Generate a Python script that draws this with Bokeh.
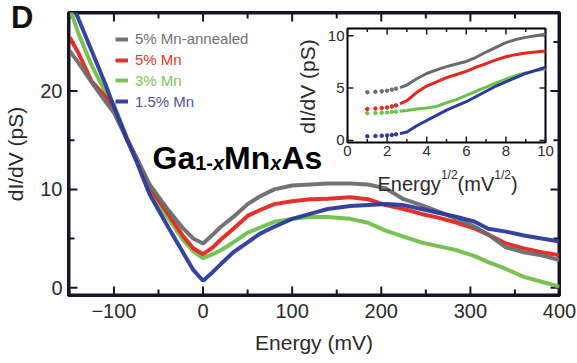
import math
from bokeh.plotting import figure
from bokeh.layouts import column
from bokeh.models import Range1d, Label, FixedTicker, Legend, LegendItem, Div
from bokeh.core.properties import value
from bokeh.embed import file_html
from bokeh.resources import INLINE

# ---------------- data ----------------
energy = [-150, -140, -125, -110, -100, -85, -75, -60, -40, -22, -11, 0, 11, 20, 34, 50, 64, 80,
          100, 120, 140, 165, 185, 205, 225, 245, 265, 285, 305, 320, 340, 360, 380, 400]
mn5_annealed = [24.1, 22.9, 20.9, 19.0, 17.8, 15.0, 13.3, 10.5, 8.0, 6.0, 5.0, 4.5, 5.4, 6.2, 7.2, 8.5, 9.3, 10.0,
                10.4, 10.5, 10.6, 10.6, 10.5, 10.1, 9.0, 8.4, 7.7, 7.0, 6.2, 5.4, 4.1, 3.6, 3.3, 2.8]
mn5 = [25.5, 23.9, 21.0, 19.5, 18.2, 15.0, 13.2, 10.2, 7.6, 5.2, 4.0, 3.4, 4.1, 4.9, 6.0, 7.3, 7.9, 8.5,
       8.8, 9.0, 9.05, 9.2, 9.0, 8.4, 8.0, 7.5, 7.1, 6.6, 6.0, 5.4, 4.5, 4.0, 3.6, 3.3]
mn3 = [28.6, 25.9, 22.6, 20.0, 18.6, 15.2, 13.2, 9.9, 7.2, 4.8, 3.7, 3.0, 3.4, 3.8, 4.6, 5.6, 6.1, 6.7,
       7.0, 7.2, 7.2, 7.0, 6.6, 5.8, 5.2, 4.6, 4.2, 3.8, 3.2, 2.6, 1.9, 1.1, 0.6, 0.1]
mn15 = [29.5, 27.4, 24.1, 20.8, 18.4, 15.0, 12.9, 9.5, 6.3, 3.5, 1.8, 0.7, 1.6, 2.4, 3.6, 4.6, 5.5, 6.2,
        7.0, 7.5, 8.0, 8.3, 8.4, 8.5, 8.4, 8.0, 7.6, 7.2, 6.7, 6.0, 5.7, 5.3, 5.0, 4.7]

series_names = ["5% Mn-annealed", "5% Mn", "3% Mn", "1.5% Mn"]

x_ticks = [-100, 0, 100, 200, 300, 400]
x_minor = [-150, -50, 50, 150, 250, 350]
y_ticks = [0, 10, 20]
y_minor = [5, 15, 25]

# inset: dI/dV vs Energy^(1/2)
inset_dot_x = [1.0, 1.41, 1.73, 2.0, 2.24, 2.45]
inset_dot_annealed = [4.6, 4.65, 4.7, 4.75, 4.85, 4.95]
inset_dot_mn5 = [3.0, 3.05, 3.1, 3.15, 3.25, 3.35]
inset_dot_mn3 = [2.6, 2.62, 2.65, 2.68, 2.72, 2.75]
inset_dot_mn15 = [0.4, 0.42, 0.45, 0.48, 0.52, 0.58]

inset_x = [2.65, 3.0, 3.5, 4.0, 4.5, 5.0, 5.5, 6.0, 6.5, 7.0, 7.5, 8.0, 8.5, 9.0, 9.5, 10.0]
inset_annealed = [5.05, 5.3, 5.9, 6.4, 6.75, 7.05, 7.3, 7.55, 7.95, 8.45, 8.9, 9.35, 9.65, 9.85, 10.0, 10.15]
inset_mn5 = [3.5, 3.8, 4.6, 5.2, 5.6, 6.0, 6.3, 6.6, 7.0, 7.35, 7.7, 8.0, 8.2, 8.35, 8.45, 8.55]
inset_mn3 = [2.78, 2.86, 3.0, 3.1, 3.25, 3.6, 3.9, 4.3, 4.7, 5.1, 5.5, 5.85, 6.2, 6.45, 6.65, 6.85]
inset_mn15 = [0.65, 0.8, 1.4, 1.9, 2.4, 2.9, 3.3, 3.7, 4.2, 4.7, 5.2, 5.6, 6.0, 6.4, 6.7, 7.0]

inset_x_ticks = [0, 2, 4, 6, 8, 10]
inset_x_minor = [1, 3, 5, 7, 9]
inset_y_ticks = [0, 5, 10]
inset_y_labels = ["0", "5", "10"]

# ---------------- style / layout ----------------
colors = ["#6b6b6b", "#e5261d", "#6fc04b", "#2a3a9e"]
text_colors = ["#727272", "#e23a28", "#7cc65a", "#4f51a6"]
FONT = "Liberation Sans"
TXT = "#2b2b2b"
INK = "#16162a"   # very dark navy for the frame and ticks

W, H = 577, 363
FL, FR, FT, FB = 68, 559, 12, 295  # frame pixel edges
XR = (-151, 400)
YR = (-0.8, 28)
PX_X = (XR[1] - XR[0]) / (FR - FL)   # data per pixel
PX_Y = (YR[1] - YR[0]) / (FB - FT)

def mx(px):
    return XR[0] + (px - FL) * PX_X

def my(py):
    return YR[1] - (py - FT) * PX_Y

p = figure(width=W, height=H, x_range=Range1d(*XR), y_range=Range1d(*YR),
           output_backend="svg", toolbar_location=None,
           min_border_left=FL, min_border_right=W - FR, min_border_top=FT, min_border_bottom=H - FB)
p.grid.visible = False
p.outline_line_color = INK
p.outline_line_width = 3

bottom_ax = p.below[0]
left_ax = p.left[0]
bottom_ax.ticker = FixedTicker(ticks=x_ticks, minor_ticks=x_minor)
left_ax.ticker = FixedTicker(ticks=y_ticks, minor_ticks=y_minor)
bottom_ax.axis_label = "Energy (mV)"
left_ax.axis_label = "dI/dV (pS)"

for ax in [bottom_ax, left_ax]:
    ax.axis_line_width = 3
    ax.axis_line_color = INK
    ax.major_tick_in = 0
    ax.major_tick_out = 0
    ax.minor_tick_in = 0
    ax.minor_tick_out = 0
    ax.major_label_text_font = FONT
    ax.major_label_text_color = TXT
    ax.major_label_text_font_size = "20px"
    ax.axis_label_text_font = FONT
    ax.axis_label_text_font_style = "normal"
    ax.axis_label_text_color = TXT
    ax.axis_label_text_font_size = "21px"
bottom_ax.major_label_standoff = 8
bottom_ax.axis_label_standoff = 10
left_ax.major_label_standoff = 6
left_ax.axis_label_standoff = 10

# frame drawn as a glyph just inside the plotting area (so it is not clipped away)
p.quad(left=XR[0] + 1.0 * PX_X, right=XR[1] - 1.0 * PX_X, bottom=YR[0] + 1.0 * PX_Y, top=YR[1] - 1.0 * PX_Y,
       fill_color=None, line_color=INK, line_width=2)

# inward ticks on all four frame edges, drawn from the tick lists
n_x, n_xm, n_y, n_ym = len(x_ticks), len(x_minor), len(y_ticks), len(y_minor)
for edge, sign in [(YR[1], -1), (YR[0], 1)]:
    p.segment(x0=x_ticks, x1=x_ticks, y0=[edge] * n_x, y1=[edge + sign * 9 * PX_Y] * n_x, line_color=INK, line_width=2)
    p.segment(x0=x_minor, x1=x_minor, y0=[edge] * n_xm, y1=[edge + sign * 6 * PX_Y] * n_xm, line_color=INK, line_width=2)
for edge, sign in [(XR[1], -1), (XR[0], 1)]:
    p.segment(x0=[edge] * n_y, x1=[edge + sign * 9 * PX_X] * n_y, y0=y_ticks, y1=y_ticks, line_color=INK, line_width=2)
    p.segment(x0=[edge] * n_ym, x1=[edge + sign * 6 * PX_X] * n_ym, y0=y_minor, y1=y_minor, line_color=INK, line_width=2)

# main curves
main_series = [mn5_annealed, mn5, mn3, mn15]
renderers = {}
for idx in [2, 1, 0, 3]:
    renderers[idx] = p.line(energy, main_series[idx], line_color=colors[idx], line_width=4, line_alpha=0.95)

# legends (one per series so each label keeps its colour)
row_y = [39, 60, 80.5, 101.5]
for i in range(4):
    lg = Legend(items=[LegendItem(label=series_names[i], renderers=[renderers[i]])],
                location=(115 - FL, FB - row_y[i] - 8),
                label_text_color=text_colors[i], label_text_font=FONT, label_text_font_size="15px",
                glyph_width=13, glyph_height=16, label_height=16, label_standoff=7,
                padding=0, margin=0, spacing=0, border_line_color=None, background_fill_alpha=0)
    p.add_layout(lg)

# ---------------- inset ----------------
IL, IR, IT, IB = 347, 545, 28, 142  # inset frame pixels
IX = (0, 10)
IY = (-0.2, 10.7)
sx = (IX[1] - IX[0]) / (IR - IL)
sy = (IY[1] - IY[0]) / (IB - IT)
p.extra_x_ranges = {"ix": Range1d(IX[0] - (IL - FL) * sx, IX[1] + (FR - IR) * sx)}
p.extra_y_ranges = {"iy": Range1d(IY[0] - (FB - IB) * sy, IY[1] + (IT - FT) * sy)}
kw = dict(x_range_name="ix", y_range_name="iy")

p.quad(left=IX[0], right=IX[1], bottom=IY[0], top=IY[1], fill_color="white",
       line_color="black", line_width=2, **kw)

tl = 6 * sy; tlm = 3.5 * sy
nx, nxm, ny = len(inset_x_ticks), len(inset_x_minor), len(inset_y_ticks)
p.segment(x0=inset_x_ticks, x1=inset_x_ticks, y0=[IY[0]] * nx, y1=[IY[0] + tl] * nx, line_color=INK, line_width=1.5, **kw)
p.segment(x0=inset_x_minor, x1=inset_x_minor, y0=[IY[0]] * nxm, y1=[IY[0] + tlm] * nxm, line_color=INK, line_width=1.5, **kw)
p.segment(x0=inset_x_ticks, x1=inset_x_ticks, y0=[IY[1]] * nx, y1=[IY[1] - tl] * nx, line_color=INK, line_width=1.5, **kw)
p.segment(x0=inset_x_minor, x1=inset_x_minor, y0=[IY[1]] * nxm, y1=[IY[1] - tlm] * nxm, line_color=INK, line_width=1.5, **kw)
txl = 6 * sx
p.segment(x0=[IX[0]] * ny, x1=[IX[0] + txl] * ny, y0=inset_y_ticks, y1=inset_y_ticks, line_color=INK, line_width=1.5, **kw)
p.segment(x0=[IX[1]] * ny, x1=[IX[1] - txl] * ny, y0=inset_y_ticks, y1=inset_y_ticks, line_color=INK, line_width=1.5, **kw)

p.text(x=inset_x_ticks, y=[IY[0]] * nx, text=[str(t) for t in inset_x_ticks], y_offset=3,
       text_align="center", text_baseline="top", text_font=value(FONT), text_font_size="15px",
       text_color=TXT, **kw)
p.text(x=[IX[0]] * ny, y=inset_y_ticks, text=inset_y_labels, x_offset=-3,
       text_align="right", text_baseline="middle", text_font=value(FONT), text_font_size="15px",
       text_color=TXT, **kw)

inset_dots = [inset_dot_annealed, inset_dot_mn5, inset_dot_mn3, inset_dot_mn15]
inset_lines = [inset_annealed, inset_mn5, inset_mn3, inset_mn15]
for i in range(4):
    p.scatter(inset_dot_x, inset_dots[i], size=3.5, color=colors[i], **kw)
    p.line(inset_x, inset_lines[i], line_color=colors[i], line_width=3, **kw)

# inset x label: Energy^(1/2)(mV^(1/2))
cx = mx((IL + IR) / 2)
by = my(183)
pieces = [("Energy", -69, 0, "20px"), ("1/2", -5.6, 9, "12px"), ("(mV", 11.1, 0, "20px"),
          ("1/2", 47.8, 9, "12px"), (")", 64.5, 0, "20px")]
for t, xo, yo, fs in pieces:
    p.add_layout(Label(x=cx, y=by, text=t, x_offset=xo, y_offset=yo, text_font=FONT,
                       text_font_size=fs, text_color=TXT, text_baseline="alphabetic"))

# inset y label
p.add_layout(Label(x=mx(307), y=my(86), text="dI/dV (pS)", angle=math.pi / 2,
                   text_align="center", text_baseline="middle", text_font=FONT,
                   text_font_size="21px", text_color=TXT))

# compound label Ga1-xMnxAs
gx, gy = mx(152), my(157)
comp = [("Ga", 0, 0, "32px", "bold", None), ("1-", 42.7, -5, "20px", "bold", None),
        ("x", 60.5, -5, "20px", "bold italic", None), ("Mn", 71.6, 0, "32px", "bold", None),
        ("x", 117.8, -5, "20px", "bold italic", None), ("As", 128.9, 0, "32px", "bold", "white")]
for t, xo, yo, fs, st, bg in comp:
    p.add_layout(Label(x=gx, y=gy, text=t, x_offset=xo, y_offset=yo,
                       text_font=FONT, text_font_size=fs, text_font_style=st, text_color="black",
                       text_baseline="alphabetic", background_fill_color=bg))

# panel letter: annotations inside the figure are clipped to the frame, so it is an
# HTML element pulled up over the figure's top-left corner
panel_letter = Div(text="D", width=30, height=34, margin=(-361, 0, 0, 11),
                   styles={"font-family": "Liberation Sans", "font-size": "31px",
                           "font-weight": "bold", "color": "#111111", "line-height": "31px"})

layout = column(p, panel_letter, spacing=0)
open("out.html", "w").write(file_html(layout, INLINE))
